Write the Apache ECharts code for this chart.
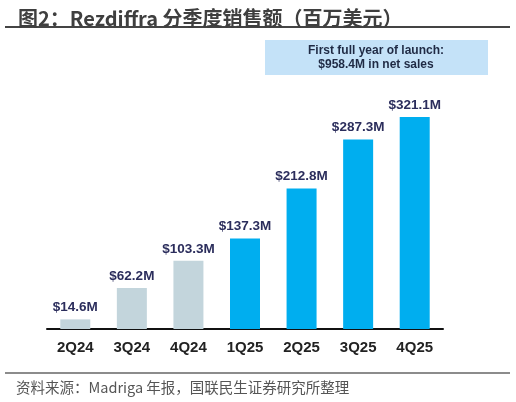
<!DOCTYPE html>
<html><head><meta charset="utf-8">
<script src="https://cdn.jsdelivr.net/npm/echarts@6/dist/echarts.min.js"></script>
<style>html,body{margin:0;padding:0;background:#fff}#c{width:516px;height:402px}</style>
</head><body><div id="c"></div>
<script>
const categories = ['2Q24','3Q24','4Q24','1Q25','2Q25','3Q25','4Q25'];
const sales = [14.6, 62.2, 103.3, 137.3, 212.8, 287.3, 321.1];
const barColors = ['#c3d5dc','#c3d5dc','#c3d5dc','#00aeef','#00aeef','#00aeef','#00aeef'];
const titleText = '图2：Rezdiffra 分季度销售额（百万美元）';
const noteLines = ['First full year of launch:', '$958.4M in net sales'];
const sourceText = '资料来源：Madriga 年报，国联民生证券研究所整理';

const chart = echarts.init(document.getElementById('c'));
chart.setOption({
  animation: false,
  title: {
    text: titleText, left: 13, top: 3,
    textStyle: {fontSize: 20, fontWeight: 'bold', color: '#3f3f3f', fontFamily: 'Noto Sans CJK SC'}
  },
  grid: {left: 47, right: 73, top: 65, bottom: 73},
  xAxis: {
    type: 'category', data: categories,
    axisLine: {lineStyle: {color: '#111', width: 2}},
    axisTick: {show: false},
    axisLabel: {margin: 11, fontSize: 15, fontWeight: 'bold', color: '#222', fontFamily: 'Arial, Liberation Sans'}
  },
  yAxis: {type: 'value', min: 0, max: 400, show: false, splitLine: {show: false}},
  series: [{
    type: 'bar', barWidth: 30,
    data: sales.map((v, i) => ({value: v, itemStyle: {color: barColors[i]}})),
    label: {
      show: true, position: 'top', distance: 5,
      formatter: p => '$' + p.value.toFixed(1) + 'M',
      fontSize: 13.5, fontWeight: 'bold', color: '#2b2d5c', fontFamily: 'Arial, Liberation Sans'
    }
  }],
  graphic: [
    {type: 'line', shape: {x1: 5, y1: 27, x2: 510, y2: 27}, style: {stroke: '#444', lineWidth: 2}},
    {type: 'rect', shape: {x: 265, y: 40, width: 223, height: 35}, style: {fill: '#c4e2f8'}},
    {type: 'text', x: 376, y: 57.5, style: {text: noteLines.join('\n'), align: 'center', verticalAlign: 'middle',
      font: 'bold 12px Arial, Liberation Sans', fill: '#1f2a44', lineHeight: 14}},
    {type: 'line', shape: {x1: 5, y1: 373, x2: 510, y2: 373}, style: {stroke: '#666', lineWidth: 1.5}},
    {type: 'text', x: 16, y: 387, style: {text: sourceText, verticalAlign: 'middle',
      font: '14.5px Noto Sans CJK SC', fill: '#555'}}
  ]
});
</script></body></html>
